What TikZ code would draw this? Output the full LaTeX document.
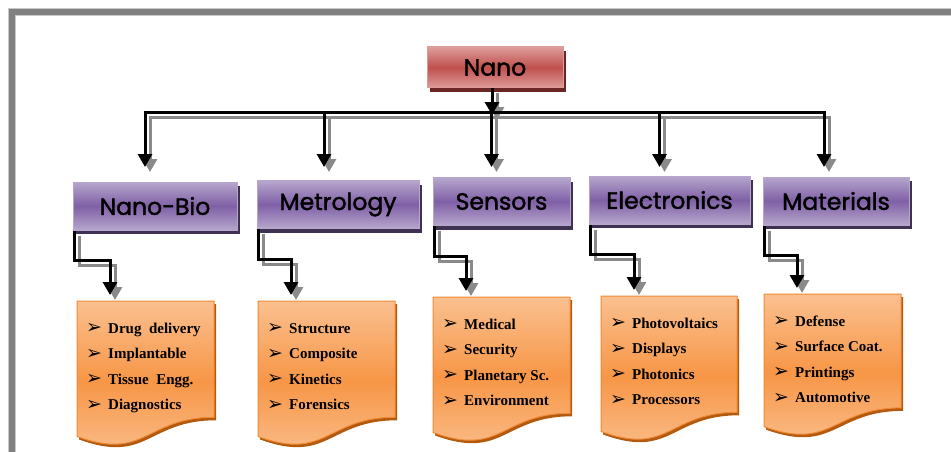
\documentclass[tikz,border=0pt]{standalone}
\usepackage{fontspec}
\setmainfont{Liberation Serif}
\newfontfamily\headfont[FakeBold=1.6]{Poppins}
\newfontfamily\symfont{DejaVu Sans}
\usetikzlibrary{arrows.meta,shadows}

\definecolor{frameGray}{HTML}{808080}
\definecolor{frameEdge}{HTML}{C8C8C8}
\definecolor{nanoMid}{HTML}{C0504D}
\definecolor{nanoLight}{HTML}{DE9C9A}
\definecolor{nanoDark}{HTML}{6A2624}
\definecolor{purMid}{HTML}{7F60A6}
\definecolor{purLight}{HTML}{B6A6CC}
\definecolor{purDark}{HTML}{3F3151}
\definecolor{orMid}{HTML}{F79646}
\definecolor{orLight}{HTML}{FAC090}
\definecolor{orEdge}{HTML}{F08A34}
\definecolor{orDark}{HTML}{B45A0E}
\definecolor{lineShadow}{HTML}{8A8A8A}

% list bullet
\newcommand\bul{\raisebox{-0.5pt}{\symfont\fontsize{19}{19}\selectfont ➢}}

% document-shaped list box: name, left x, top y, width, height, items
\newcommand\docbox[6]{%
  \pgfmathsetmacro\dxr{#2+#4}%
  \pgfmathsetmacro\dxm{#2+0.5*#4}%
  \pgfmathsetmacro\dyr{#3+0.802*#5}%
  \pgfmathsetmacro\dyc{#3+1.108*#5}%
  \pgfmathsetmacro\dyl{#3+0.934*#5}%
  \fill[orDark, shift={(2,3)}] (#2,#3) -- (\dxr,#3) -- (\dxr,\dyr)
     .. controls (\dxm,\dyr) and (\dxm,\dyc) .. (#2,\dyl) -- cycle;
  \path[draw=orEdge, line width=1pt, top color=orLight, bottom color=orLight, middle color=orMid]
     (#2,#3) -- (\dxr,#3) -- (\dxr,\dyr)
     .. controls (\dxm,\dyr) and (\dxm,\dyc) .. (#2,\dyl) -- cycle;
  \coordinate (#1) at (#2,#3);
  \foreach \t [count=\i] in {#6} {
    \node[item] (#1-\i) at (#2+9,#3+32+25.5*\i-25.5) {\makebox[22pt][l]{\bul}\t};
  }%
}

% all connectors; the argument adds the look of one layer
\newcommand\links[1]{%
  \draw[conn,#1,->] ([xshift=-3pt]nano.south) -- ([xshift=-3pt,yshift=-3pt]nano.south |- bar);
  \draw[conn,#1,<->] ([xshift=-10pt]nb.north |- tips) -- ([xshift=-10pt]nb.north |- bar)
     -- ([xshift=-12pt]ma.north |- bar) -- ([xshift=-12pt]ma.north |- tips);
  \draw[conn,#1,->] ([xshift=-14pt]me.north |- bar) -- ([xshift=-14pt]me.north |- tips);
  \draw[conn,#1,->] ([xshift=-10pt]se.north |- bar) -- ([xshift=-10pt]se.north |- tips);
  \draw[conn,#1,->] ([xshift=-10pt]el.north |- bar) -- ([xshift=-10pt]el.north |- tips);
  \foreach \b/\l in {nb/lNB, me/lMe, se/lSe, el/lEl, ma/lMa} {
    \draw[conn,#1,->] ([xshift=2pt]\b.south west) -- ++(0,30) -| ([xshift=33pt,yshift=6pt]\l);
  }%
}

\begin{document}
\begin{tikzpicture}[x=1pt,y=-1pt,
  headbox/.style={rectangle, inner sep=0pt, text=black,
    font=\headfont\fontsize{23.5}{24}\selectfont, minimum height=48pt},
  nanobox/.style={headbox, minimum width=136pt, minimum height=41pt,
    draw=nanoLight, line width=1pt,
    top color=nanoLight, bottom color=nanoLight, middle color=nanoMid,
    drop shadow={shadow xshift=3pt, shadow yshift=-4pt, fill=nanoDark, opacity=1}},
  purbox/.style={headbox, draw=purLight, line width=1pt,
    top color=purLight, bottom color=purLight, middle color=purMid,
    drop shadow={shadow xshift=3pt, shadow yshift=-4pt, fill=purDark, opacity=1}},
  item/.style={anchor=base west, inner sep=0pt,
    font=\bfseries\fontsize{15}{17}\selectfont},
  conn/.style={draw=black, line width=3pt, line join=miter,
    >={Triangle[width=14pt,length=13pt]}},
  shadowlayer/.style={draw=lineShadow, transform canvas={xshift=5pt,yshift=-5pt}}]

\useasboundingbox (0,0) rectangle (951,452);

% outer frame
\draw[frameEdge, line width=7.5pt] (12,460) -- (12,12) -- (960,12);
\draw[frameGray, line width=5.5pt] (12,460) -- (12,12) -- (960,12);

% top box
\node[nanobox] (nano) at (495,67.5) {Nano};

% second row
\node[purbox, minimum width=164pt] (nb) at (155,206) {Nano-Bio};
\node[purbox, minimum width=162pt] (me) at (338,204.5) {Metrology};
\node[purbox, minimum width=137pt] (se) at (501.5,201.5) {Sensors};
\node[purbox, minimum width=161pt] (el) at (669.5,200) {Electronics};
\node[purbox, minimum width=146pt] (ma) at (836,201) {Materials};

% helper levels for the tree
\coordinate (bar) at (0,112);
\coordinate (tips) at (0,167);

% third row
\docbox{lNB}{77}{301}{137}{145}{Drug\ \ delivery, Implantable, Tissue\ \ Engg., Diagnostics}
\docbox{lMe}{258}{301}{137}{145}{Structure, Composite, Kinetics, Forensics}
\docbox{lSe}{433}{297}{137}{145}{Medical, Security, Planetary Sc., Environment}
\docbox{lEl}{601}{296}{136}{145}{Photovoltaics, Displays, Photonics, Processors}
\docbox{lMa}{764}{294}{137}{142}{Defense, Surface Coat., Printings, Automotive}

% connectors: shadow layer first, then the black lines
\links{shadowlayer}
\links{}

\end{tikzpicture}
\end{document}
